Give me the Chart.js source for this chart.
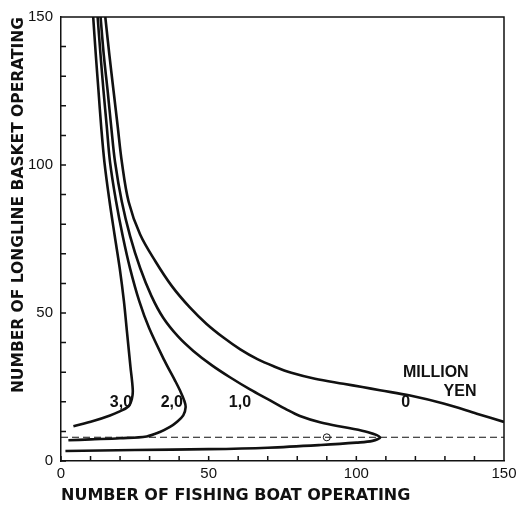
<!DOCTYPE html>
<html lang="en">
<head>
  <meta charset="UTF-8" />
  <title>Longline basket vs fishing boat operating</title>
  <style>
    body { margin: 0; background: #fff; }
    canvas { display: block; }
  </style>
</head>
<body>
  <canvas id="grafico" width="521" height="510"></canvas>

  <script src="https://cdn.jsdelivr.net/npm/chart.js"></script>
  <script>
    // contour lines (million yen): x = fishing boats, y = longline baskets
    const boats30 = [10.9, 11.8, 12.7, 13.6, 14.7, 16.4, 18.2, 19.9, 21.3, 22.4, 23.5, 24.3, 24.0, 22.8, 19.5, 16.6, 10.9, 4.2];
    const baskets30 = [150, 137, 125, 113, 101, 88, 76, 65, 54, 43, 32, 24, 21, 18.4, 16.6, 15.4, 13.5, 11.7];

    const boats20 = [12.4, 13.4, 14.4, 15.5, 16.6, 18.6, 20.9, 23.4, 26.5, 29.8, 35.0, 38.7, 40.3, 41.7, 42.2, 41.4, 39.0, 36.9, 33.5, 29.0, 20.0, 10.0, 2.5];
    const baskets20 = [150, 137, 125, 113, 101, 88, 76, 65, 54, 45, 34, 27, 23.8, 20.5, 18.2, 15.4, 13.0, 11.5, 9.8, 8.3, 7.7, 7.3, 7.0];

    const boats10 = [13.4, 14.5, 15.8, 17.0, 18.3, 20.6, 23.4, 26.8, 30.6, 34.6, 39.7, 44.8, 51.0, 57.2, 64.0, 70.8, 76.0, 80.9, 88.0, 97.0, 104.0, 108.0, 105.5, 100.0, 88.0, 70.0, 50.0, 25.0, 1.5];
    const baskets10 = [150, 137, 125, 113, 101, 87.6, 76, 65.2, 55.8, 48.4, 42, 37.2, 32.4, 28.3, 24.2, 20.5, 17.6, 15.2, 13.0, 11.2, 9.7, 8.0, 6.8, 6.2, 5.4, 4.5, 4.0, 3.7, 3.4];

    const boats0 = [15.0, 16.4, 17.8, 19.2, 20.6, 22.9, 26.8, 32.0, 37.6, 43.7, 49.3, 55.0, 60.7, 66.5, 72.0, 78.0, 86.0, 95.6, 102.0, 108.0, 118.2, 129.5, 140.8, 150];
    const baskets0 = [150, 137, 125, 113, 101, 87.6, 76.5, 67.4, 59.0, 51.8, 46.3, 41.7, 37.7, 34.4, 32.0, 29.8, 27.8, 26.1, 25.0, 23.9, 22.1, 19.4, 16.0, 13.2];

    // dashed level and the marked point on it
    const levelBoats = [0, 150];
    const levelBaskets = [8, 8];
    const markBoats = [90];
    const markBaskets = [8];

    const curveLabels = [
      { text: '3,0', x: 20.3, y: 19.9 },
      { text: '2,0', x: 37.5, y: 19.9 },
      { text: '1,0', x: 60.6, y: 19.9 },
      { text: '0', x: 116.7, y: 19.6 },
      { text: 'MILLION', x: 126.9, y: 29.7 },
      { text: 'YEN', x: 135.1, y: 23.3 }
    ];

    const toPoints = (xs, ys) => xs.map((x, i) => ({ x, y: ys[i] }));

    const curve = (xs, ys) => ({
      data: toPoints(xs, ys),
      showLine: true,
      borderColor: '#111',
      borderWidth: 2.6,
      pointRadius: 0,
      tension: 0.35,
      fill: false
    });

    const frame = {
      id: 'frame',
      afterDatasetsDraw(chart) {
        const { ctx, chartArea: a, scales: { x, y } } = chart;
        ctx.save();
        ctx.strokeStyle = '#111';
        ctx.lineWidth = 1.5;
        ctx.beginPath();
        ctx.moveTo(a.left, a.top);
        ctx.lineTo(a.right, a.top);
        ctx.lineTo(a.right, a.bottom);
        x.ticks.forEach(t => {
          const p = x.getPixelForValue(t.value);
          ctx.moveTo(p, a.bottom);
          ctx.lineTo(p, a.bottom - 5);
        });
        y.ticks.forEach(t => {
          const p = y.getPixelForValue(t.value);
          ctx.moveTo(a.left, p);
          ctx.lineTo(a.left + 5, p);
        });
        ctx.stroke();

        ctx.fillStyle = '#111';
        ctx.font = 'bold 16px "Liberation Sans"';
        ctx.textAlign = 'center';
        ctx.textBaseline = 'middle';
        curveLabels.forEach(l => {
          ctx.fillText(l.text, x.getPixelForValue(l.x), y.getPixelForValue(l.y));
        });
        ctx.restore();
      }
    };

    const tickFont = { family: 'Liberation Sans', size: 15 };
    const fiftyOnly = v => (v % 50 === 0 ? v : '');

    new Chart(document.getElementById('grafico'), {
      type: 'scatter',
      data: {
        datasets: [
          curve(boats30, baskets30),
          curve(boats20, baskets20),
          curve(boats10, baskets10),
          curve(boats0, baskets0),
          {
            data: toPoints(levelBoats, levelBaskets),
            showLine: true,
            borderColor: '#111',
            borderWidth: 1.1,
            borderDash: [7, 4],
            pointRadius: 0
          },
          {
            data: toPoints(markBoats, markBaskets),
            showLine: false,
            pointRadius: 3.5,
            pointBackgroundColor: '#fff',
            pointBorderColor: '#111',
            pointBorderWidth: 1
          }
        ]
      },
      options: {
        responsive: false,
        animation: false,
        events: [],
        layout: { padding: { top: 14, right: 17, bottom: 0, left: 0 } },
        plugins: { legend: { display: false }, tooltip: { enabled: false } },
        scales: {
          x: {
            type: 'linear',
            min: 0,
            max: 150,
            afterFit: s => { s.height = 49; },
            ticks: { stepSize: 10, autoSkip: false, maxRotation: 0, callback: fiftyOnly, font: tickFont, color: '#111', padding: 4 },
            grid: { display: false, drawTicks: false },
            border: { color: '#111', width: 1.5 },
            title: {
              display: true,
              text: 'NUMBER OF FISHING BOAT OPERATING',
              align: 'start',
              font: { family: 'DejaVu Sans', size: 16, weight: 'bold' },
              color: '#111',
              padding: { top: 0, bottom: 5 }
            }
          },
          y: {
            type: 'linear',
            min: 0,
            max: 150,
            afterFit: s => { s.width = 61; },
            ticks: { stepSize: 10, autoSkip: false, callback: fiftyOnly, font: tickFont, color: '#111', padding: 8 },
            grid: { display: false, drawTicks: false },
            border: { color: '#111', width: 1.5 },
            title: {
              display: true,
              text: 'NUMBER OF LONGLINE BASKET OPERATING',
              align: 'end',
              font: { family: 'DejaVu Sans', size: 15.5, weight: 'bold' },
              color: '#111',
              padding: { top: 10, bottom: 0 }
            }
          }
        }
      },
      plugins: [frame]
    });
  </script>
</body>
</html>
